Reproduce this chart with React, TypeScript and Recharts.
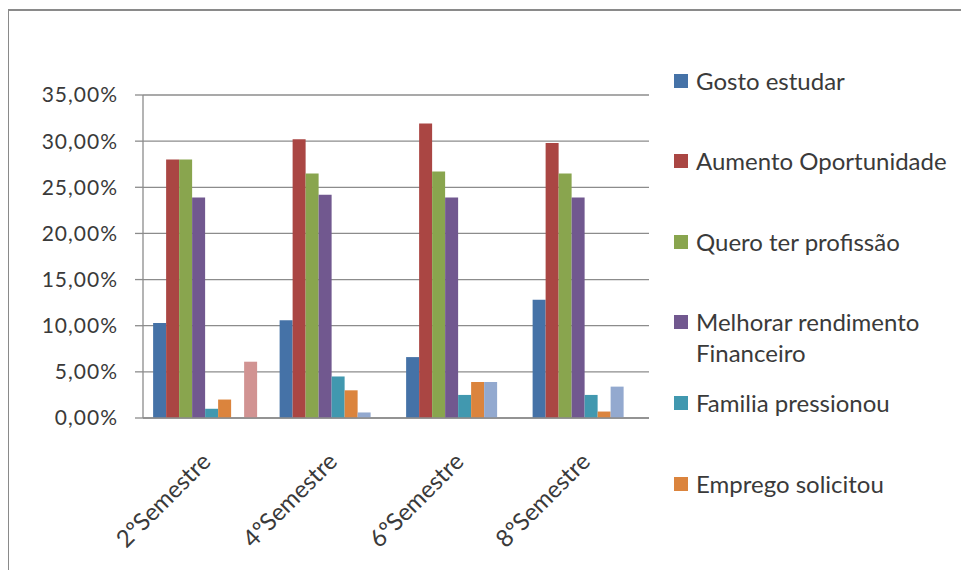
import React from "react"
import {
  BarChart,
  Bar,
  XAxis,
  YAxis,
  CartesianGrid,
  Legend,
} from "recharts"

const categories = ["2ºSemestre", "4ºSemestre", "6ºSemestre", "8ºSemestre"]

const gostoEstudar = [10.3, 10.6, 6.6, 12.8]
const aumentoOportunidade = [28.0, 30.2, 31.9, 29.8]
const queroProfissao = [28.0, 26.5, 26.7, 26.5]
const melhorarRendimento = [23.9, 24.2, 23.9, 23.9]
const familiaPressionou = [1.0, 4.5, 2.5, 2.5]
const empregoSolicitou = [2.0, 3.0, 3.9, 0.7]
const serie7 = [0, 0.6, 3.9, 3.4]
const serie8 = [6.1, 0, 0, 0]

const yTicks = [0, 5, 10, 15, 20, 25, 30, 35]
const boundaryTicks = [0, 1, 2, 3, 4]

const series = [
  { key: "gosto", name: "Gosto estudar", values: gostoEstudar, color: "#4572A7" },
  { key: "aumento", name: "Aumento Oportunidade", values: aumentoOportunidade, color: "#AA4643" },
  { key: "quero", name: "Quero ter  profissão", values: queroProfissao, color: "#89A54E" },
  { key: "melhorar", name: "Melhorar rendimento Financeiro", values: melhorarRendimento, color: "#71588F" },
  { key: "familia", name: "Familia pressionou", values: familiaPressionou, color: "#4198AF" },
  { key: "emprego", name: "Emprego solicitou", values: empregoSolicitou, color: "#DB843D" },
  { key: "s7", name: "Série 7", values: serie7, color: "#93A9CF" },
  { key: "s8", name: "Série 8", values: serie8, color: "#D19392" },
]

const data = categories.map((name, i) => {
  const row: Record<string, string | number> = { name }
  series.forEach((s) => (row[s.key] = s.values[i]))
  return row
})

const FONT = "Lato, 'Open Sans', sans-serif"
const TEXT = "#3a3a3a"
const GRID = "#8c8c8c"

const fmt = (v: number) => v.toFixed(2).replace(".", ",") + "%"

const CategoryTick = (props: any) => {
  const { x, y, payload } = props
  const tx = x + 6
  const ty = y + 37
  return (
    <text
      x={tx}
      y={ty}
      textAnchor="end"
      transform={`rotate(-45, ${tx}, ${ty})`}
      fontFamily={FONT}
      fontSize={24}
      fill={TEXT}
    >
      {payload.value}
    </text>
  )
}

// Excel clipped the legend after the 6th entry
const LegendBox = () => (
  <div style={{ position: "relative", fontFamily: FONT, fontSize: 24, color: TEXT }}>
    {series.slice(0, 6).map((s, i) => (
      <div
        key={s.key}
        style={{
          position: "absolute",
          left: 0,
          top: 80.6 * i,
          display: "flex",
          alignItems: "flex-start",
          lineHeight: "31px",
        }}
      >
        <span
          style={{
            display: "inline-block",
            width: 14,
            height: 14,
            marginTop: 9,
            background: s.color,
            flex: "none",
          }}
        />
        <span style={{ marginLeft: 8, width: 268 }}>{s.name}</span>
      </div>
    ))}
  </div>
)

export default function App() {
  return (
    <div style={{ position: "relative", width: 969, height: 578, margin: -8, overflow: "hidden", background: "#fff" }}>
      <BarChart
        width={969}
        height={578}
        data={data}
        margin={{ top: 95, right: 320, bottom: 0, left: 0 }}
        barCategoryGap="8%"
        barGap={0}
        style={{ position: "absolute", left: 0, top: 0 }}
      >
        <CartesianGrid vertical={false} stroke={GRID} strokeWidth={1.3} />
        <XAxis
          dataKey="name"
          height={160}
          tickLine={false}
          axisLine={{ stroke: GRID, strokeWidth: 1.3 }}
          tick={<CategoryTick />}
          interval={0}
        />
        <XAxis
          xAxisId="b"
          type="number"
          domain={[0, 4]}
          allowDataOverflow
          ticks={boundaryTicks}
          height={0}
          axisLine={false}
          tickLine={{ stroke: GRID, strokeWidth: 1.3 }}
          tickSize={7}
          tickFormatter={() => ""}
        />
        <YAxis
          width={143}
          domain={[0, 35]}
          ticks={yTicks}
          tickFormatter={fmt}
          tickSize={8}
          tickMargin={17}
          axisLine={{ stroke: GRID, strokeWidth: 1.3 }}
          tickLine={{ stroke: GRID, strokeWidth: 1.3 }}
          tick={{ fontFamily: FONT, fontSize: 21, fill: TEXT, letterSpacing: 1 }}
        />
        {series.map((s) => (
          <Bar key={s.key} dataKey={s.key} name={s.name} fill={s.color} isAnimationActive={false} />
        ))}
        <Legend
          layout="horizontal"
          verticalAlign="middle"
          align="center"
          content={<LegendBox />}
          wrapperStyle={{ left: 674, top: 64.5, width: 295, height: 0 }}
        />
      </BarChart>
      {/* frame of the chart area, only its left and top edges are in view */}
      <div style={{ position: "absolute", left: 6, top: 9, width: 3, height: 569, background: "#8a8a8a" }} />
      <div style={{ position: "absolute", left: 6, top: 9, width: 963, height: 2, background: "#8a8a8a" }} />
    </div>
  )
}
